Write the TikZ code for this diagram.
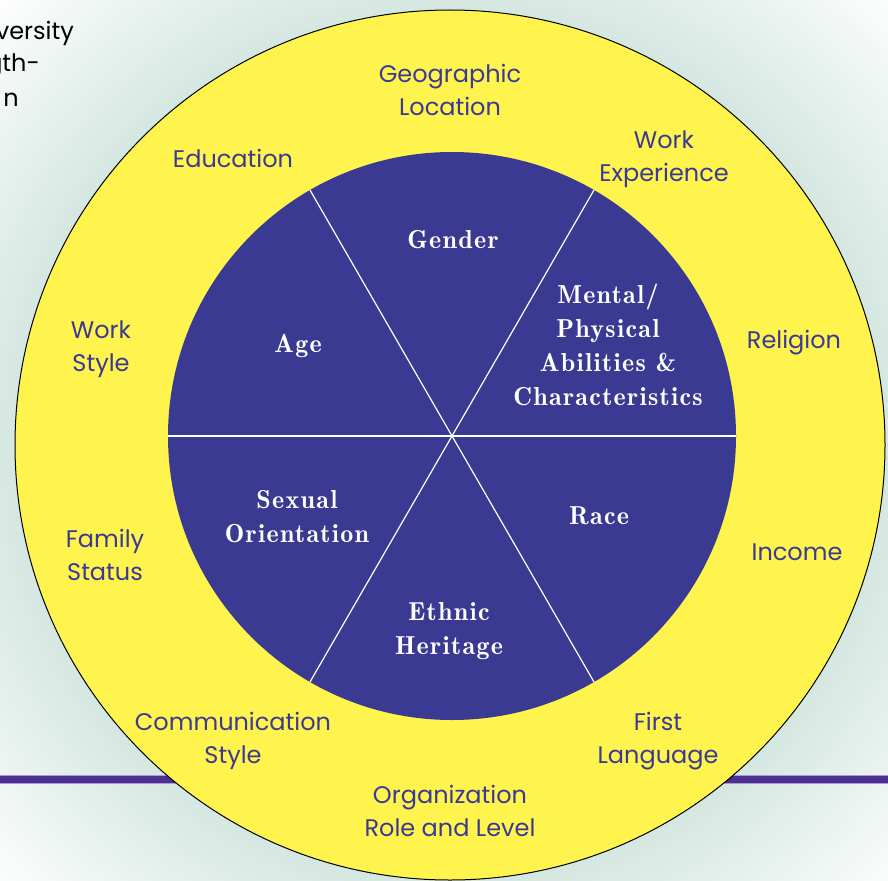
\documentclass[tikz,border=0pt]{standalone}
\usepackage{fontspec}
\usetikzlibrary{calc}
\newfontfamily\outerfont{Poppins}
\newfontfamily\innerfont{lmromandemi10-regular.otf}[LetterSpace=5]
\definecolor{bggreen}{RGB}{213,231,225}
\definecolor{ringyellow}{RGB}{255,243,78}
\definecolor{corebluecol}{RGB}{59,58,147}
\definecolor{barpurple}{RGB}{75,47,145}
\definecolor{barlight}{RGB}{170,155,205}
\pgfdeclareradialshading{bgshade}{\pgfpoint{0bp}{0bp}}{color(0bp)=(bggreen); color(17bp)=(bggreen); color(25bp)=(white); color(50bp)=(white)}
\tikzset{
  outerlbl/.style={font=\outerfont\fontsize{24}{33}\selectfont, text=corebluecol, align=center, inner sep=0pt},
  innerlbl/.style={font=\innerfont\fontsize{26}{34}\selectfont, text=white, align=center, inner sep=0pt},
  cornerlbl/.style={font=\outerfont\fontsize{24}{33}\selectfont, text=black, inner sep=0pt, anchor=east},
  spoke/.style={draw=white, line width=1.2pt}
}
\begin{document}
\begin{tikzpicture}[x=1pt,y=-1pt]
\useasboundingbox (0,0) rectangle (888,880);
\begin{scope}
\clip (0,0) rectangle (888,880);
\shade[shading=bgshade] (450,445) circle[radius=640];
% cut-off text at top left
\node[cornerlbl] (c1) at (74,33) {versity};
\node[cornerlbl] (c2) at (40,66) {gth-};
\node[cornerlbl] (c3) at (19,100) {n};
% purple bar
\fill[barpurple] (0,775) rectangle (888,783);
\draw[barlight, line width=0.8pt] (0,775) -- (888,775);
\draw[barlight, line width=0.8pt] (0,783) -- (888,783);
% outer ring
\coordinate (oc) at (450,445);
\filldraw[fill=ringyellow, draw=black, line width=1pt] (oc) circle[radius=435];
% inner disc
\coordinate (ic) at (452,436);
\fill[corebluecol] (ic) circle[radius=284];
\draw[spoke] ($(ic)+(0:284)$) -- ($(ic)+(180:284)$);
\draw[spoke] ($(ic)+(60:284)$) -- ($(ic)+(240:284)$);
\draw[spoke] ($(ic)+(120:284)$) -- ($(ic)+(300:284)$);
% outer labels
\node[outerlbl] (geo) at (450,90) {Geographic\\Location};
\node[outerlbl] (edu) at (233,158) {Education};
\node[outerlbl] (wexp) at (664,159) {Work\\Experience};
\node[outerlbl] (wsty) at (101,349) {Work\\Style};
\node[outerlbl] (rel) at (794,343) {Religion};
\node[outerlbl] (fam) at (105,555) {Family\\Status};
\node[outerlbl] (inc) at (797,552) {Income};
\node[outerlbl] (comm) at (233,741) {Communication\\Style};
\node[outerlbl] (lang) at (658,741) {First\\Language};
\node[outerlbl] (org) at (450,811) {Organization\\Role and Level};
% inner labels
\node[innerlbl] (gen) at (453,240) {Gender};
\node[innerlbl] (age) at (298,346) {Age};
\node[innerlbl] (ment) at (608,345) {Mental/\\Physical\\Abilities \&\\Characteristics};
\node[innerlbl] (sex) at (297,517) {Sexual\\Orientation};
\node[innerlbl] (race) at (599,516) {Race};
\node[innerlbl] (eth) at (449,631) {Ethnic\\Heritage};
\end{scope}
\end{tikzpicture}
\end{document}
